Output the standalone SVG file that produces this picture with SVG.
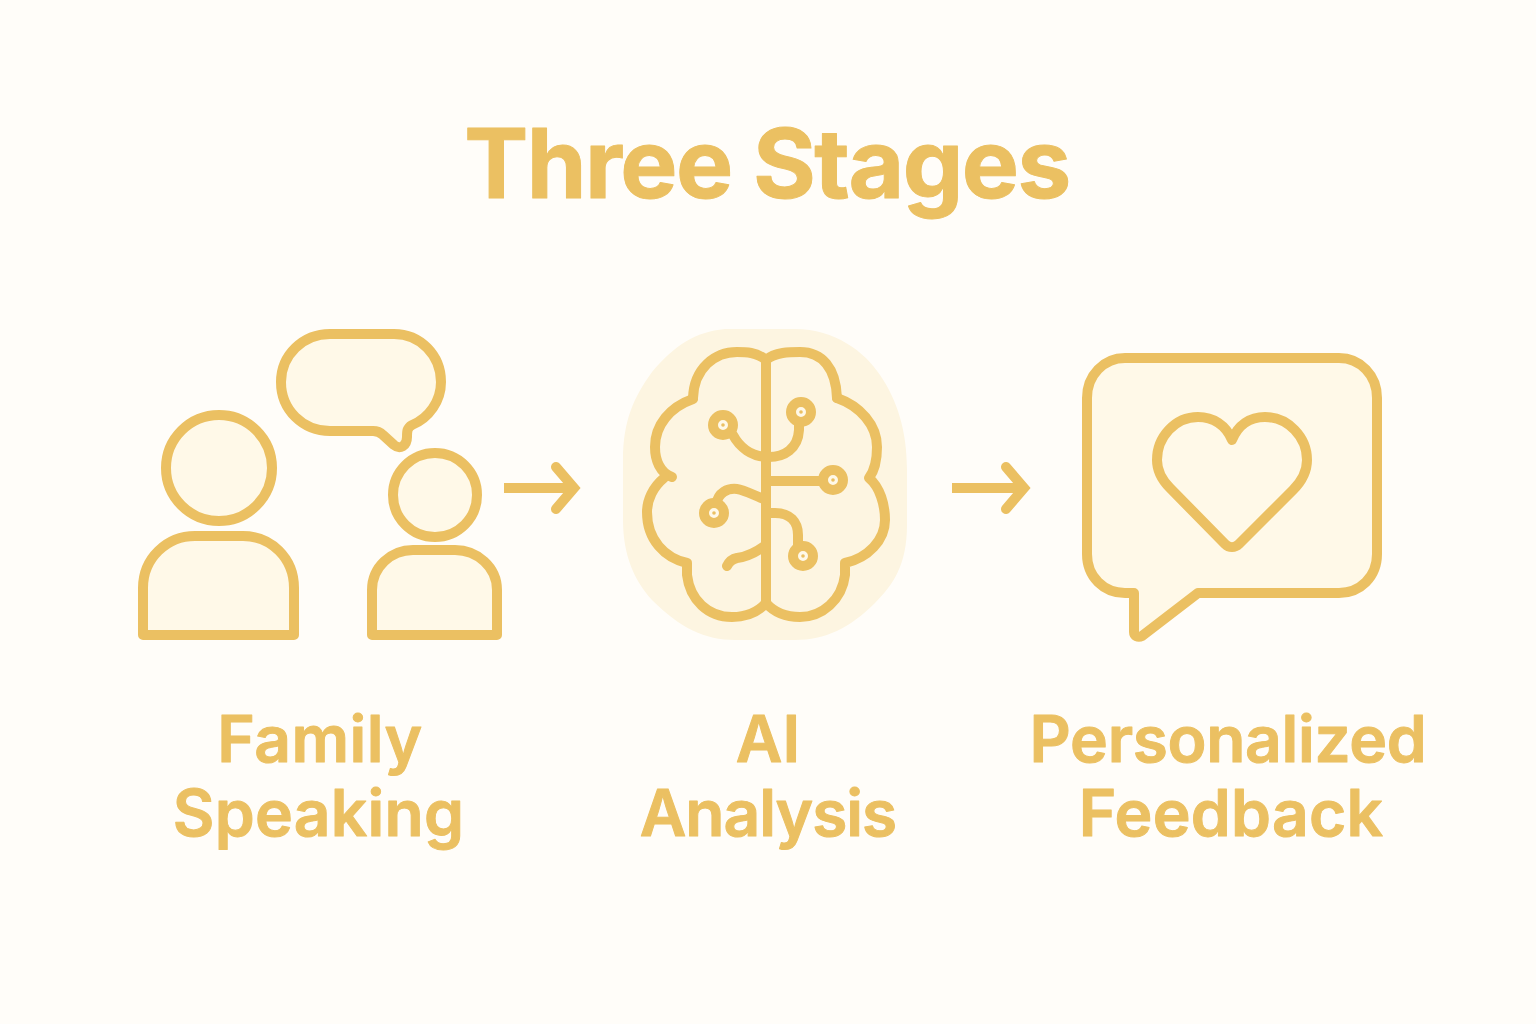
<svg xmlns="http://www.w3.org/2000/svg" width="1536" height="1024" viewBox="0 0 1536 1024">
<style>
.l{fill:none;stroke:#ebc062;stroke-width:10;stroke-linecap:round;stroke-linejoin:round}
.h{fill:none;stroke:#ebc062;stroke-width:10;stroke-linecap:round;stroke-linejoin:miter}
.b{fill:none;stroke:#ebc062;stroke-width:10}
.f{fill:#fff9e8;stroke:#ebc062;stroke-width:10;stroke-linejoin:round}
.t{font-family:"Inter","Liberation Sans",sans-serif;font-weight:600;fill:#ebc062;stroke:#ebc062;stroke-linejoin:round;text-anchor:middle}
.s{font-size:64px;stroke-width:1px}
.d{fill:#fff9e8;stroke:#ebc062;stroke-width:10}
.c{fill:#ebc062}
</style>
<rect width="1536" height="1024" fill="#fffdf9"/>
<text class="t" x="767" y="198" font-size="96" letter-spacing="-1.500" stroke-width="1" style="font-weight:700" id="title">Three Stages</text>
<g id="family-speaking">
<circle class="f" cx="219" cy="468" r="53"/>
<path class="f" d="M143 635V588C143 558 167 536 195 536H243C271 536 294 558 294 588V635Z"/>
<path class="f" d="M330 334H394C420 334 441 355 441 382C441 401 429 418 412 425C407 428 407 431 407 437C407 446 400 450 394 445L383 435C380 432 377 431 373 431H330C303 431 281 410 281 382C281 355 303 334 330 334Z"/>
<circle class="f" cx="435" cy="495" r="42"/>
<path class="f" d="M372 635V590C372 567 391 550 413 550H455C477 550 497 567 497 590V635Z"/>
<text class="t s" x="320" y="762" letter-spacing="0.500">Family</text>
<text class="t s" x="318.500" y="836" letter-spacing="0.300">Speaking</text>
</g>
<g id="ai-analysis">
<path d="M725 329H795C835 329 865 352 880 375C897 400 907 430 907 470V525C907 565 893 585 875 603C850 628 825 640 795 640H735C705 640 680 628 652 600C634 580 623 555 623 520V460C623 420 634 397 652 372C675 345 695 332 725 329Z" fill="#fdf5e1"/>
<path class="l" d="M766 360C757 352 745 352 737 352C715 352 694 368 693 398"/>
<path class="l" d="M693 399C670 407 655 425 655 447C655 460 660 473 672 477"/>
<path class="l" d="M664 478C653 487 647 500 647 512C647 540 665 558 687 563V575C690 600 708 617 732 617C748 617 758 612 766 603"/>
<path class="l" d="M766 360C775 352 790 352 800 352C822 352 836 368 837 398"/>
<path class="l" d="M837 398C860 406 877 425 877 447C877 460 875 470 869 478C880 487 885 505 885 520C885 540 868 558 845 563V575C842 600 822 617 800 617C785 617 773 611 766 603"/>
<path class="l" d="M766 360V603"/>
<path class="l" d="M733 435C740 448 752 456 766 457C785 458 798 448 799 430V420"/>
<path class="l" d="M766 481H830"/>
<path class="l" d="M716 505C718 492 728 488 737 489C745 490 755 496 766 500"/>
<path class="l" d="M766 513H775C790 513 798 522 798 535V550"/>
<path class="l" d="M766 545C755 553 745 557 737 558C732 559 729 562 727 566"/>
<circle class="d" cx="723" cy="425" r="10"/><circle class="c" cx="723" cy="425" r="1.800"/>
<circle class="d" cx="801" cy="412" r="10"/><circle class="c" cx="801" cy="412" r="1.800"/>
<circle class="d" cx="833" cy="480" r="10"/><circle class="c" cx="833" cy="480" r="1.800"/>
<circle class="d" cx="714" cy="513" r="10"/><circle class="c" cx="714" cy="513" r="1.800"/>
<circle class="d" cx="803" cy="556" r="10"/><circle class="c" cx="803" cy="556" r="1.800"/>
<text class="t s" x="768" y="762">AI</text>
<text class="t s" x="768" y="836" letter-spacing="-1">Analysis</text>
</g>
<g id="personalized-feedback">
<path class="f" d="M1125 358H1339C1360 358 1377 375 1377 398V554C1377 577 1360 593 1339 593H1198L1142 636C1138 638 1134 636 1134 632V593H1125C1104 593 1087 577 1087 554V398C1087 375 1104 358 1125 358Z"/>
<path class="l" d="M1232 440C1226 425 1213 417 1198 417C1175 417 1157 437 1157 460C1157 470 1162 480 1170 488L1225 544C1229 548 1235 548 1239 544L1293 490C1302 481 1307 470 1307 460C1307 437 1288 417 1265 417C1250 417 1238 425 1232 440Z"/>
<text class="t s" x="1228" y="762" letter-spacing="-0.300">Personalized</text>
<text class="t s" x="1231" y="836" letter-spacing="0.300">Feedback</text>
</g>
<g id="connectors">
<path class="b" d="M504 488H574"/><path class="h" d="M556 467L574 488L556 509"/>
<path class="b" d="M952 488H1022"/><path class="h" d="M1006 467L1024 488L1006 509"/>
</g>
</svg>
